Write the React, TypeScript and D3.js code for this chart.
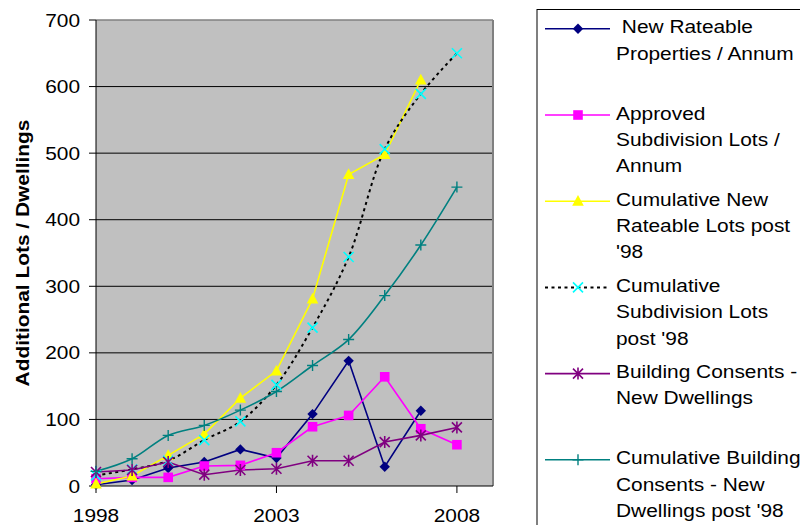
import React from "react";
import * as d3 from "d3";

// Years on the category axis
const years = [1998, 1999, 2000, 2001, 2002, 2003, 2004, 2005, 2006, 2007, 2008];

// Series values (null = no value for that year)
const newRateable: (number | null)[] = [2, 9, 27, 36, 55, 42, 108, 188, 29, 113, null];
const approvedLots: (number | null)[] = [11, 13, 13, 30, 31, 50, 89, 106, 164, 86, 62];
const cumRateable: (number | null)[] = [3, 15, 46, 78, 132, 173, 281, 468, 498, 610, null];
const cumSubdivision: (number | null)[] = [16, 25, 38, 69, 97, 152, 238, 344, 506, 589, 650];
const consents: (number | null)[] = [21, 24, 36, 17, 24, 26, 38, 38, 66, 76, 88];
const cumConsents: (number | null)[] = [22, 41, 76, 91, 114, 142, 181, 220, 286, 362, 449];

const yTicks = [0, 100, 200, 300, 400, 500, 600, 700];
const xTicks = [1998, 2003, 2008];

const legendLabels: string[][] = [
  [" New Rateable", "Properties / Annum"],
  ["Approved", "Subdivision Lots /", "Annum"],
  ["Cumulative New", "Rateable Lots post", "'98"],
  ["Cumulative", "Subdivision Lots", "post '98"],
  ["Building Consents -", "New Dwellings"],
  ["Cumulative Building", "Consents - New", "Dwellings post '98"],
];

type MarkerKind = "diamond" | "square" | "triangle" | "x" | "star" | "plus";

interface SeriesDef {
  values: (number | null)[];
  line: string;
  dash?: string;
  lineWidth: number;
  marker: MarkerKind;
  markerColor: string;
  smooth: boolean;
}

const series: SeriesDef[] = [
  { values: newRateable, line: "#000080", lineWidth: 1.6, marker: "diamond", markerColor: "#000080", smooth: false },
  { values: approvedLots, line: "#FF00FF", lineWidth: 1.6, marker: "square", markerColor: "#FF00FF", smooth: false },
  { values: cumRateable, line: "#FFFF00", lineWidth: 1.6, marker: "triangle", markerColor: "#FFFF00", smooth: false },
  { values: cumSubdivision, line: "#000000", dash: "3,3.5", lineWidth: 2, marker: "x", markerColor: "#00FFFF", smooth: true },
  { values: consents, line: "#800080", lineWidth: 1.6, marker: "star", markerColor: "#800080", smooth: false },
  { values: cumConsents, line: "#008080", lineWidth: 1.6, marker: "plus", markerColor: "#008080", smooth: true },
];

const FONT = "'Liberation Sans', Arial, sans-serif";
const FS = 18.5;
const SX = 1.13;

const left = 96;
const right = 493;
const top = 20;
const bottom = 486;

function Marker({ kind, color, x, y }: { kind: MarkerKind; color: string; x: number; y: number }) {
  const t = `translate(${x},${y})`;
  switch (kind) {
    case "diamond":
      return <path transform={t} d="M0,-5.2L5.2,0L0,5.2L-5.2,0Z" fill={color} />;
    case "square":
      return <path transform={t} d="M-4.8,-4.8H4.8V4.8H-4.8Z" fill={color} />;
    case "triangle":
      return <path transform={t} d="M0,-6.2L5.8,4.6L-5.8,4.6Z" fill={color} />;
    case "x":
      return (
        <path transform={t} d="M-5,-5L5,5M-5,5L5,-5" stroke={color} strokeWidth={1.6} fill="none" />
      );
    case "star":
      return (
        <path
          transform={t}
          d="M-5,-5L5,5M-5,5L5,-5M0,-6V6"
          stroke={color}
          strokeWidth={1.6}
          fill="none"
        />
      );
    case "plus":
      return (
        <path transform={t} d="M-5.5,0H5.5M0,-5.5V5.5" stroke={color} strokeWidth={1.4} fill="none" />
      );
  }
}

function Label({
  x,
  y,
  children,
  anchor = "start",
  bold = false,
  rotate = 0,
}: {
  x: number;
  y: number;
  children: string;
  anchor?: "start" | "middle" | "end";
  bold?: boolean;
  rotate?: number;
}) {
  return (
    <text
      transform={`translate(${x},${y}) rotate(${rotate}) scale(${SX},1)`}
      textAnchor={anchor}
      fontFamily={FONT}
      fontSize={FS}
      fontWeight={bold ? "bold" : "normal"}
      fill="#000"
      style={{ whiteSpace: "pre" }}
    >
      {children}
    </text>
  );
}

export default function App() {
  const x = d3.scaleLinear().domain([1998, 2009]).range([left, right]);
  const y = d3.scaleLinear().domain([0, 700]).range([bottom, top]);

  const makeLine = (smooth: boolean) =>
    d3
      .line<number | null>()
      .defined((d) => d !== null)
      .x((_, i) => x(years[i]))
      .y((d) => y(d as number))
      .curve(smooth ? d3.curveCatmullRom.alpha(0.5) : d3.curveLinear);

  const legendX0 = 545;
  const legendX1 = 610;
  const legendMarkerX = 578;
  const legendTextX = 616;
  const legendFirstBaseline = 33.3;
  const legendStep = 86.2;
  const legendLineGap = 26.3;

  return (
    <svg
      width={800}
      height={525}
      viewBox="0 0 800 525"
      style={{ position: "absolute", left: 0, top: 0, background: "#fff" }}
    >
      {/* plot area */}
      <rect x={left} y={top} width={right - left} height={bottom - top} fill="#C0C0C0" />

      {/* horizontal gridlines */}
      {yTicks
        .filter((t) => t > 0 && t < 700)
        .map((t) => (
          <line key={t} x1={left} x2={right} y1={y(t)} y2={y(t)} stroke="#000" strokeWidth={1} />
        ))}

      {/* plot frame: top and right in grey */}
      <line x1={left} x2={right} y1={top} y2={top} stroke="#808080" strokeWidth={1.5} />
      <line x1={right} x2={right} y1={top} y2={bottom} stroke="#808080" strokeWidth={2} />

      {/* axes */}
      <line x1={left} x2={left} y1={top} y2={bottom} stroke="#000" strokeWidth={1} />
      <line x1={left} x2={right} y1={bottom} y2={bottom} stroke="#000" strokeWidth={1} />

      {yTicks.map((t) => (
        <g key={t}>
          <line x1={left - 7} x2={left} y1={y(t)} y2={y(t)} stroke="#000" />
          <Label x={80} y={y(t) + 6.5} anchor="end">
            {String(t)}
          </Label>
        </g>
      ))}

      {xTicks.map((t) => (
        <g key={t}>
          <line x1={x(t)} x2={x(t)} y1={bottom} y2={bottom + 7} stroke="#000" />
          <Label x={x(t)} y={521.5} anchor="middle">
            {String(t)}
          </Label>
        </g>
      ))}

      <Label x={28.5} y={253} anchor="middle" bold rotate={-90}>
        Additional Lots / Dwellings
      </Label>

      {/* series lines */}
      {series.map((s, i) => (
        <path
          key={i}
          d={makeLine(s.smooth)(s.values) || ""}
          fill="none"
          stroke={s.line}
          strokeWidth={s.lineWidth}
          strokeDasharray={s.dash}
        />
      ))}

      {/* series markers */}
      {series.map((s, i) => (
        <g key={i}>
          {s.values.map((v, j) =>
            v === null ? null : (
              <Marker key={j} kind={s.marker} color={s.markerColor} x={x(years[j])} y={y(v)} />
            )
          )}
        </g>
      ))}

      {/* legend */}
      <rect x={537} y={9.5} width={300} height={540} fill="#fff" stroke="#000" strokeWidth={1} />
      {series.map((s, i) => {
        const base = legendFirstBaseline + legendStep * i;
        const ly = base - 4.5;
        return (
          <g key={i}>
            <line
              x1={legendX0}
              x2={legendX1}
              y1={ly}
              y2={ly}
              stroke={s.line}
              strokeWidth={s.lineWidth}
              strokeDasharray={s.dash}
            />
            <Marker kind={s.marker} color={s.markerColor} x={legendMarkerX} y={ly} />
            {legendLabels[i].map((txt, k) => (
              <Label key={k} x={legendTextX} y={base + legendLineGap * k}>
                {txt}
              </Label>
            ))}
          </g>
        );
      })}
    </svg>
  );
}
